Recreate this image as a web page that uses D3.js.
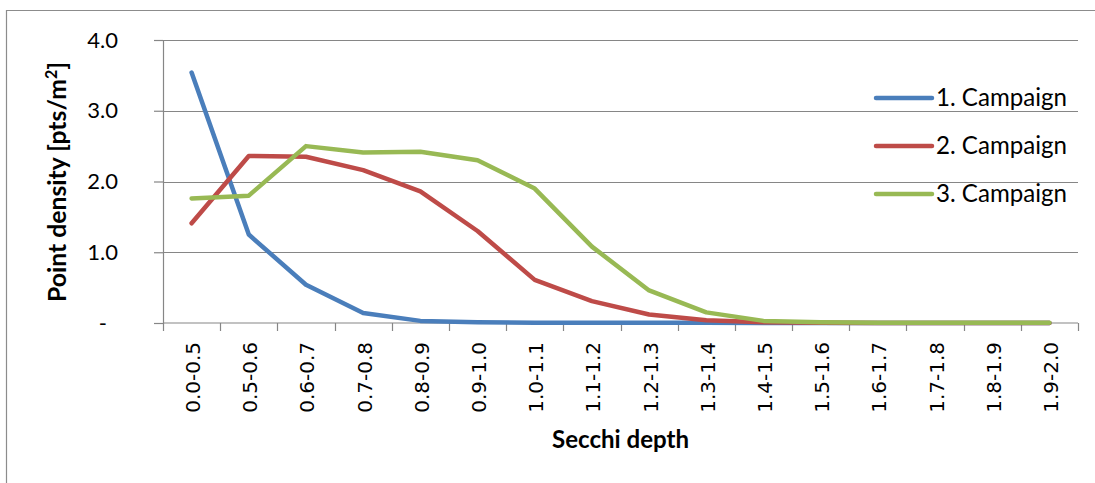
<!DOCTYPE html>
<html>
<head>
<meta charset="utf-8">
<script src="https://cdnjs.cloudflare.com/ajax/libs/d3/7.8.5/d3.min.js"></script>
<style>
  body { margin: 0; background: #fff; }
  svg { display: block; }
</style>
</head>
<body>
<div id="chart"></div>
<script>
var categories = ["0.0-0.5","0.5-0.6","0.6-0.7","0.7-0.8","0.8-0.9","0.9-1.0","1.0-1.1","1.1-1.2",
                  "1.2-1.3","1.3-1.4","1.4-1.5","1.5-1.6","1.6-1.7","1.7-1.8","1.8-1.9","1.9-2.0"];
var campaign1 = [3.54, 1.25, 0.54, 0.14, 0.03, 0.01, 0.005, 0.004, 0.003, 0.002, 0.001, 0, 0, 0, 0, 0];
var campaign2 = [1.41, 2.36, 2.35, 2.16, 1.86, 1.30, 0.61, 0.31, 0.12, 0.04, 0.01, 0.003, 0, 0, 0, 0];
var campaign3 = [1.76, 1.80, 2.50, 2.41, 2.42, 2.30, 1.90, 1.08, 0.46, 0.15, 0.03, 0.01, 0.005, 0.004, 0.003, 0.003];
var seriesNames = ["1. Campaign", "2. Campaign", "3. Campaign"];
var seriesColors = ["#4A7EBB", "#BE4B48", "#98B954"];
var yTicks = [0, 1, 2, 3, 4];

var width = 1095, height = 483;
var margin = {left: 163, top: 40, right: 17, bottom: 160};

var svg = d3.select("#chart").append("svg")
	.attr("width", width)
	.attr("height", height);

// outer frame
svg.append("path")
	.attr("d", "M6.5," + height + "V10.5H" + width)
	.attr("fill", "none")
	.attr("stroke", "#8c8c8c")
	.attr("stroke-width", 1.2);

var x = d3.scaleBand()
	.domain(categories)
	.range([margin.left, width - margin.right])
	.padding(0);

var y = d3.scaleLinear()
	.domain([0, 4])
	.range([height - margin.bottom, margin.top]);

// gridlines
svg.append("g").selectAll("line")
	.data(yTicks.slice(1))
	.enter().append("line")
	.attr("x1", margin.left)
	.attr("x2", width - margin.right)
	.attr("y1", function(d){ return Math.round(y(d)) + 0.5; })
	.attr("y2", function(d){ return Math.round(y(d)) + 0.5; })
	.attr("stroke", "#868686")
	.attr("stroke-width", 1.2);

// y axis
var yAxis = d3.axisLeft(y)
	.tickValues(yTicks)
	.tickSize(9)
	.tickPadding(36)
	.tickFormat(function(d){ return d === 0 ? "-" : d3.format(".1f")(d); });

var gy = svg.append("g")
	.attr("transform", "translate(" + margin.left + ",0)")
	.call(yAxis);
gy.select(".domain").attr("stroke", "#868686").attr("stroke-width", 1.2);
gy.selectAll(".tick line").attr("stroke", "#868686").attr("stroke-width", 1.2);
gy.selectAll(".tick text")
	.attr("font-family", "Lato, 'Open Sans', sans-serif")
	.attr("font-size", 22)
	.attr("fill", "#000")
	.attr("dx", function(d){ return d === 0 ? -11 : 0; });

// x axis
var gx = svg.append("g").attr("class", "x axis");
var y0 = y(0);
gx.append("line")
	.attr("x1", margin.left)
	.attr("x2", width - margin.right)
	.attr("y1", y0)
	.attr("y2", y0)
	.attr("stroke", "#868686")
	.attr("stroke-width", 1.2);

var edges = categories.map(function(c){ return x(c); }).concat([x.range()[1]]);
gx.selectAll(".xtick")
	.data(edges)
	.enter().append("line")
	.attr("class", "xtick")
	.attr("x1", function(d){ return Math.round(d) + 0.5; })
	.attr("x2", function(d){ return Math.round(d) + 0.5; })
	.attr("y1", y0)
	.attr("y2", y0 + 8)
	.attr("stroke", "#868686")
	.attr("stroke-width", 1.2);

gx.selectAll(".xlabel")
	.data(categories)
	.enter().append("text")
	.attr("class", "xlabel")
	.attr("transform", function(d){
		return "translate(" + (x(d) + x.bandwidth() / 2 + 8.5) + "," + (y0 + 19) + ")rotate(-90)";
	})
	.attr("text-anchor", "end")
	.attr("font-family", "'DejaVu Sans', Verdana, sans-serif")
	.attr("font-size", 20)
	.attr("fill", "#000")
	.text(function(d){ return d; });

// axis titles
function fitText(sel, target) {
	var size = +sel.attr("font-size");
	var w = sel.node().getComputedTextLength();
	sel.attr("font-size", (size * target / w).toFixed(2));
}

var yTitle = svg.append("text")
	.attr("transform", "translate(66," + ((62 + 302) / 2) + ")rotate(-90)")
	.attr("text-anchor", "middle")
	.attr("font-family", "Lato, 'Open Sans', sans-serif")
	.attr("font-weight", "bold")
	.attr("font-size", 20)
	.attr("fill", "#000");
yTitle.append("tspan").text("Point density [pts/m");
yTitle.append("tspan").text("2").attr("font-size", "0.65em").attr("dy", "-0.55em");
yTitle.append("tspan").text("]").attr("dy", "0.35em");
fitText(yTitle, 240);

var xTitle = svg.append("text")
	.attr("x", (margin.left + width - margin.right) / 2)
	.attr("y", 448)
	.attr("text-anchor", "middle")
	.attr("font-family", "Lato, 'Open Sans', sans-serif")
	.attr("font-weight", "bold")
	.attr("font-size", 20)
	.attr("fill", "#000")
	.text("Secchi depth");
fitText(xTitle, 137);

// lines
var allSeries = [campaign1, campaign2, campaign3];
var line = d3.line()
	.x(function(d, i){ return x(categories[i]) + x.bandwidth() / 2; })
	.y(function(d){ return y(d); });

svg.append("g").selectAll("path")
	.data(allSeries)
	.enter().append("path")
	.attr("d", line)
	.attr("fill", "none")
	.attr("stroke", function(d, i){ return seriesColors[i]; })
	.attr("stroke-width", 4.5)
	.attr("stroke-linejoin", "round")
	.attr("stroke-linecap", "round");

// legend
var legend = svg.append("g").selectAll("g")
	.data(seriesNames)
	.enter().append("g")
	.attr("transform", function(d, i){ return "translate(876," + (98 + i * 48) + ")"; });

legend.append("line")
	.attr("x1", 0)
	.attr("x2", 56)
	.attr("stroke", function(d, i){ return seriesColors[i]; })
	.attr("stroke-width", 4.5)
	.attr("stroke-linecap", "round");

legend.append("text")
	.attr("x", 60)
	.attr("y", 8)
	.attr("font-family", "Lato, 'Open Sans', sans-serif")
	.attr("font-size", 22)
	.attr("fill", "#000")
	.text(function(d){ return d; })
	.each(function(){ fitText(d3.select(this), 131); });
</script>
</body>
</html>
